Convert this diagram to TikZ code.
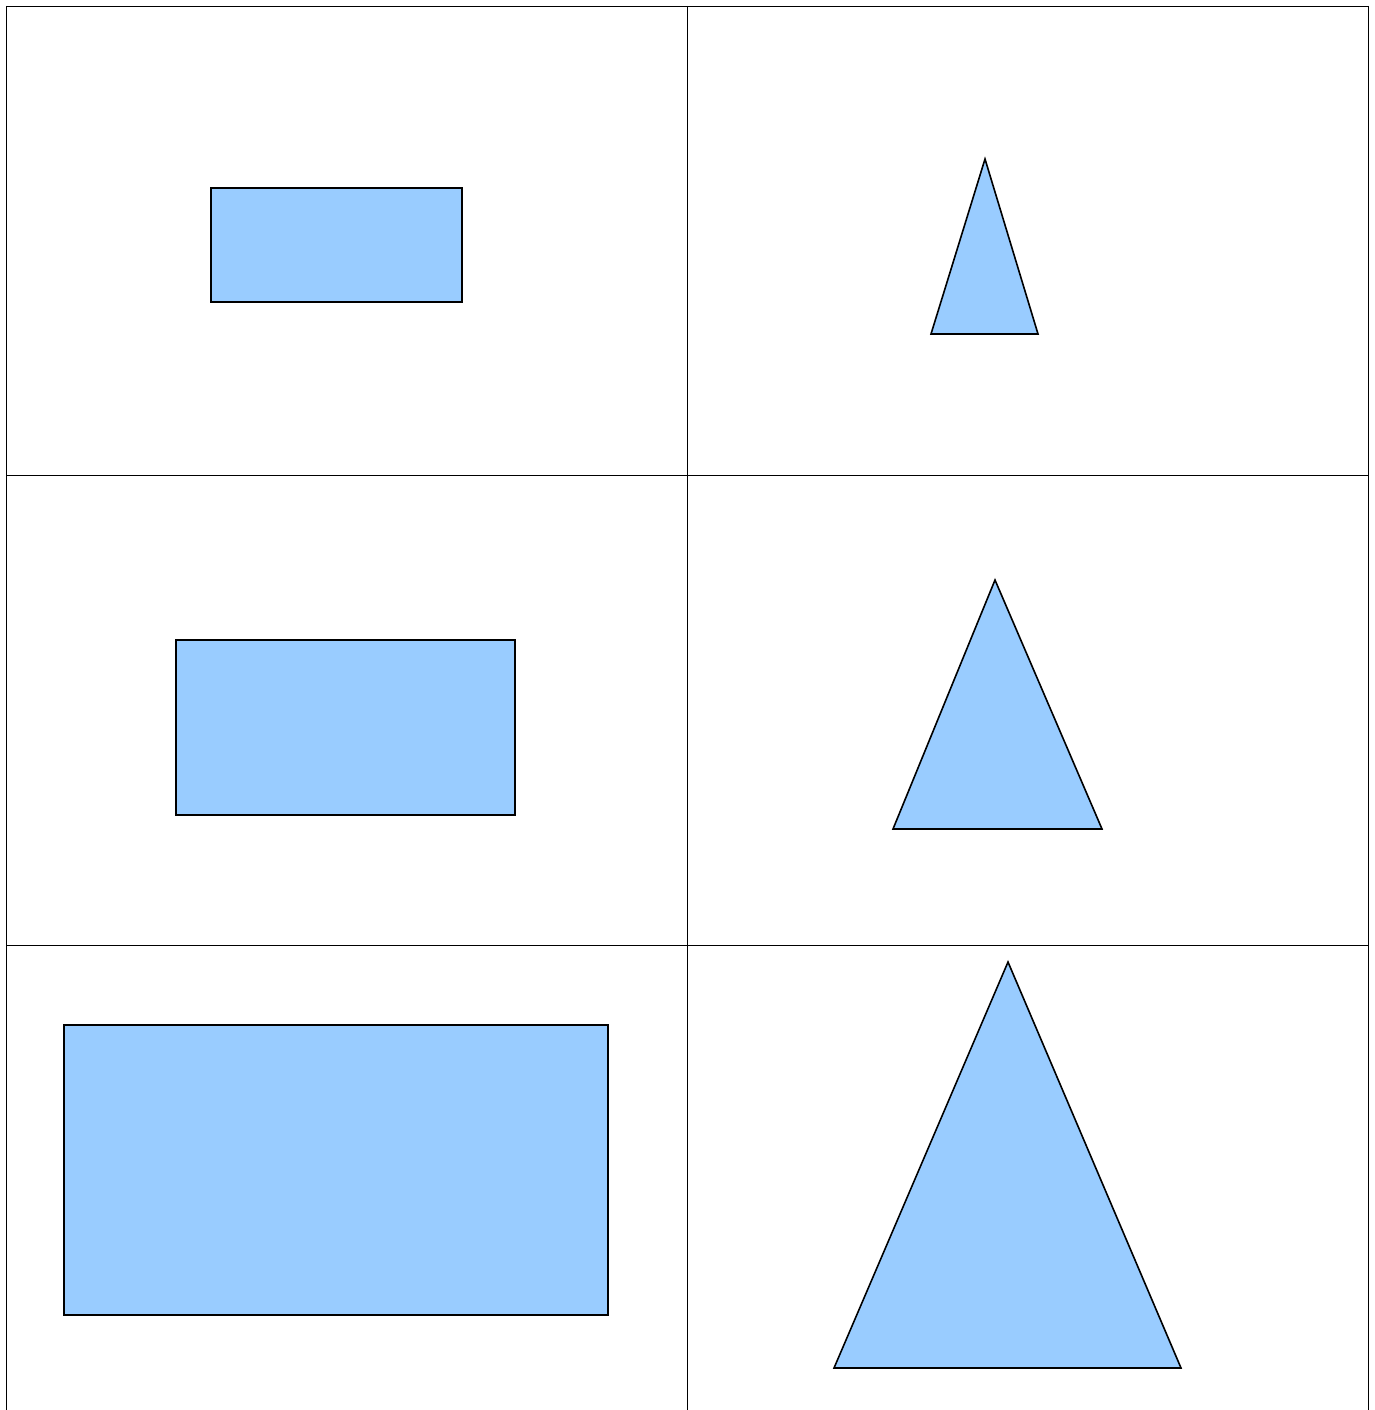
\documentclass[tikz,border=0pt]{standalone}
\usepackage{tikz}
\usetikzlibrary{calc}

\definecolor{shapeblue}{HTML}{99CCFF}

\begin{document}
\begin{tikzpicture}[x=1pt,y=-1pt,line width=0.8pt,
  figura/.style={fill=shapeblue,draw=black,line width=1.6pt,line join=miter}]
  \useasboundingbox (0,0) rectangle (1375,1410);
  % ===== rejilla =====
  \draw (6,6) -- (1368,6);
  \draw (6,475) -- (1368,475);
  \draw (6,945) -- (1368,945);
  \draw (6,6) -- (6,1410);
  \draw (687,6) -- (687,1410);
  \draw (1368,6) -- (1368,1410);
  % ===== fila 1 =====
  \draw[figura] (211,188) rectangle (462,302);
  \coordinate (A1) at (985,159);
  \draw[figura] (A1) -- (1038,334) -- (931,334) -- cycle;
  % ===== fila 2 =====
  \draw[figura] (176,640) rectangle (515,815);
  \coordinate (A2) at (995,580);
  \draw[figura] (A2) -- (1102,829) -- (893,829) -- cycle;
  % ===== fila 3 =====
  \draw[figura] (64,1025) rectangle (608,1315);
  \coordinate (A3) at (1008,962);
  \draw[figura] (A3) -- (1181,1368) -- (834,1368) -- cycle;
\end{tikzpicture}
\end{document}
